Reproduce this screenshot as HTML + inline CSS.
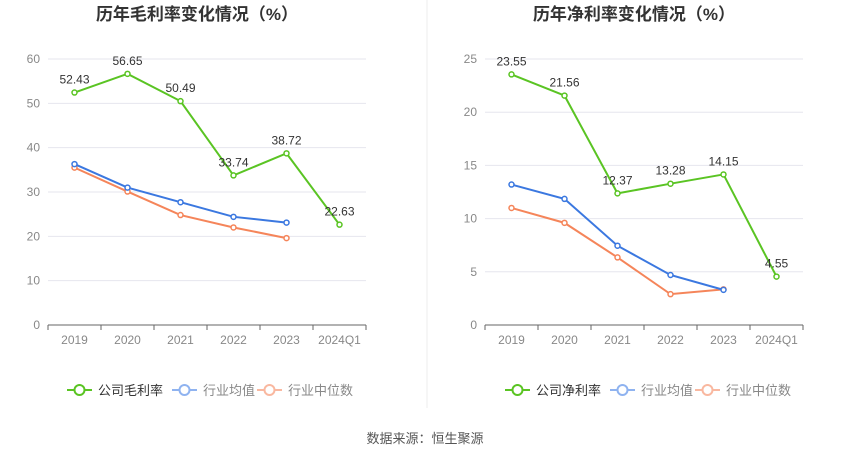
<!DOCTYPE html>
<html><head><meta charset="utf-8">
<style>
body{margin:0;width:850px;height:459px;background:#fff;overflow:hidden;font-family:"Liberation Sans","Noto Sans CJK SC",sans-serif;}
svg text{font-family:"Liberation Sans","Noto Sans CJK SC",sans-serif;}
</style></head>
<body>
<svg id="svg" width="850" height="459"></svg>
<script>
const categories=["2019","2020","2021","2022","2023","2024Q1"];
const grossCompany=[52.43,56.65,50.49,33.74,38.72,22.63];
const grossAvg=[36.3,31.0,27.7,24.4,23.1];
const grossMedian=[35.5,30.1,24.8,22.0,19.6];
const grossTicks=[0,10,20,30,40,50,60];
const netCompany=[23.55,21.56,12.37,13.28,14.15,4.55];
const netAvg=[13.2,11.85,7.45,4.7,3.3];
const netMedian=[11.0,9.6,6.35,2.9,3.35];
const netTicks=[0,5,10,15,20,25];

const NS="http://www.w3.org/2000/svg";
const svg=document.getElementById('svg');
function mk(tag,attrs,parent){const e=document.createElementNS(NS,tag);for(const k in attrs)e.setAttribute(k,attrs[k]);(parent||svg).appendChild(e);return e;}

function chart(cfg){
  const g=mk('g',{});
  
  
  const x0=cfg.x0,x1=cfg.x1,yTop=59,yBot=325,max=cfg.ticks[cfg.ticks.length-1];
  const step=(x1-x0)/categories.length;
  const xs=i=>x0+step*(i+0.5);
  const ys=v=>yBot-(v/max)*(yBot-yTop);
  const t=mk('text',{x:(x0+x1)/2-10,y:20,'text-anchor':'middle','font-size':17,'font-weight':'bold',fill:'#333'},g);
  t.textContent=cfg.title;
  
  
  cfg.ticks.forEach(v=>{
    const l=mk('line',{x1:x0,x2:x1,y1:ys(v),y2:ys(v),stroke:v===0?'#666':'#e6e6ee','stroke-width':1},g);
    
    
    const tx=mk('text',{x:x0-8,y:ys(v)+4,'text-anchor':'end','font-size':12,fill:'#888'},g);
    tx.textContent=v;
    
    
  });
  categories.forEach((c,i)=>{
    mk('line',{x1:x0+step*(i+1),x2:x0+step*(i+1),y1:yBot,y2:yBot+5,stroke:'#666'},g);
    const tx=mk('text',{x:xs(i),y:yBot+19,'text-anchor':'middle','font-size':12,fill:'#888'},g);
    tx.textContent=c;
    
    
  });
  mk('line',{x1:x0,x2:x0,y1:yBot,y2:yBot+5,stroke:'#666'},g);
  const series=[[cfg.median,'#f5855a','median-line'],[cfg.avg,'#3b78e0','average-line'],[cfg.company,'#5ac423','company-line']];
  series.forEach(([d,col,nm])=>{
    const p=mk('polyline',{points:d.map((v,i)=>xs(i)+','+ys(v)).join(' '),fill:'none',stroke:col,'stroke-width':2},g);
    
    
    d.forEach((v,i)=>{
      const c=mk('circle',{cx:xs(i),cy:ys(v),r:2.5,fill:'#fff',stroke:col,'stroke-width':1.5},g);
      
      
    });
  });
  cfg.company.forEach((v,i)=>{
    const tx=mk('text',{x:xs(i),y:ys(v)-9,'text-anchor':'middle','font-size':12,fill:'#333'},g);
    tx.textContent=v.toFixed(2);
    
    
  });
  const lx=cfg.legendX, ly=390;
  const items=[[cfg.compLabel,'#5ac423','#333'],['行业均值','#8fb3f0','#888'],['行业中位数','#f9b8a0','#888']];
  const offs=[0,105,190];
  items.forEach(([lab,col,tc],k)=>{
    const lg=mk('g',{},g);
    
    
    const bx=lx+offs[k];
    mk('line',{x1:bx,x2:bx+25,y1:ly,y2:ly,stroke:col,'stroke-width':2},lg);
    mk('circle',{cx:bx+12.5,cy:ly,r:5,fill:'#fff',stroke:col,'stroke-width':2},lg);
    const tx=mk('text',{x:bx+31,y:ly+5,'font-size':13,fill:tc},lg);
    tx.textContent=lab;
  });
}
chart({name:'gross-margin-chart',title:'历年毛利率变化情况（%）',x0:48,x1:366,ticks:grossTicks,company:grossCompany,avg:grossAvg,median:grossMedian,compLabel:'公司毛利率',legendX:67});
chart({name:'net-margin-chart',title:'历年净利率变化情况（%）',x0:485,x1:803,ticks:netTicks,company:netCompany,avg:netAvg,median:netMedian,compLabel:'公司净利率',legendX:505});
const d=mk('line',{x1:427,x2:427,y1:0,y2:408,stroke:'#eeeeee'});


const s=mk('text',{x:425,y:443,'text-anchor':'middle','font-size':13,fill:'#555'});
s.textContent='数据来源：恒生聚源';


</script>
</body></html>
